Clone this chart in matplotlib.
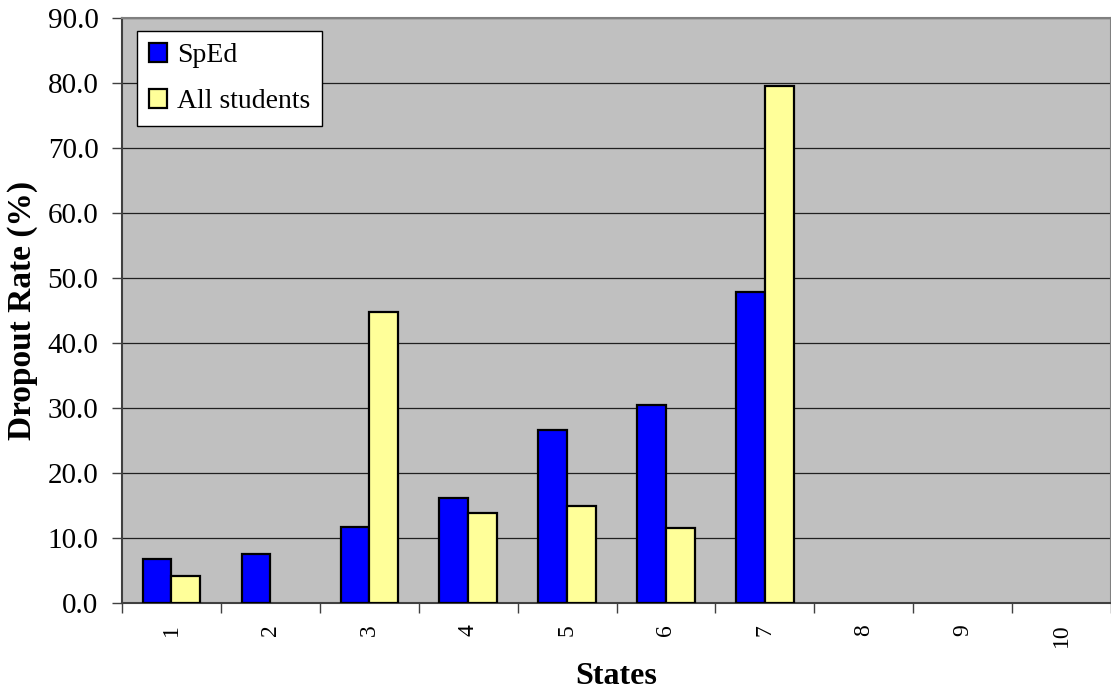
import numpy as np
import matplotlib
matplotlib.use("Agg")
import matplotlib.pyplot as plt

# dropout rates per state (%); 0 means no data reported
states = ["1", "2", "3", "4", "5", "6", "7", "8", "9", "10"]
sped = [6.8, 7.5, 11.7, 16.2, 26.6, 30.5, 47.8, 0, 0, 0]
all_students = [4.2, 0, 44.8, 13.9, 14.9, 11.6, 79.6, 0, 0, 0]

plt.rcParams['font.family'] = ['Liberation Serif', 'DejaVu Serif']

fig = plt.figure(figsize=(11.11, 6.92), dpi=100)
ax = fig.add_axes([122 / 1111, 89 / 692, 989 / 1111, 585 / 692])
ax.set_facecolor('#C0C0C0')

x = np.arange(len(states))
w = 0.29
# blank entries are left out so no flat outline shows on the axis
sp = np.array(sped, dtype=float)
al = np.array(all_students, dtype=float)
sp[sp == 0] = np.nan
al[al == 0] = np.nan
ax.bar(x - w / 2, sp, w, color='#0000FF', edgecolor='black', linewidth=1.6,
       label='SpEd', zorder=3)
ax.bar(x + w / 2, al, w, color='#FFFF99', edgecolor='black', linewidth=1.6,
       label='All students', zorder=3)

ax.set_xlim(-0.5, len(states) - 0.5)
ax.set_ylim(0, 90)
ax.set_yticks(np.arange(0, 91, 10))
ax.set_yticklabels(['%.1f' % v for v in np.arange(0, 91, 10)], fontsize=21)
ax.yaxis.grid(True, color='#202020', linewidth=0.9, zorder=0)
ax.set_axisbelow(True)

ax.set_xticks(x)
ax.set_xticklabels(states, rotation=90, fontsize=17)
ax.tick_params(axis='x', which='major', length=0, pad=15)
ax.set_xticks(np.arange(-0.5, len(states), 1), minor=True)
ax.tick_params(axis='x', which='minor', length=7, width=1, color='#404040')
ax.tick_params(axis='y', length=7, width=1, color='#404040', pad=10)

for side in ['top', 'right']:
    ax.spines[side].set_color('#808080')
    ax.spines[side].set_linewidth(1.5)
for side in ['left', 'bottom']:
    ax.spines[side].set_color('#404040')
    ax.spines[side].set_linewidth(1.5)

ax.set_ylabel('Dropout Rate (%)', fontsize=24, fontweight='bold')
ax.yaxis.set_label_coords(-0.085, 0.5)
ax.set_xlabel('States', fontsize=23, fontweight='bold')
ax.xaxis.set_label_coords(0.5, -0.1)

leg = ax.legend(loc='upper left', bbox_to_anchor=(0.015, 0.978), fontsize=20,
                fancybox=False, framealpha=1, edgecolor='black',
                handlelength=0.68, handleheight=0.68, handletextpad=0.35,
                borderpad=0.42, labelspacing=0.75, borderaxespad=0)
leg.get_frame().set_linewidth(1.0)

fig.savefig('out.png', dpi=100)
